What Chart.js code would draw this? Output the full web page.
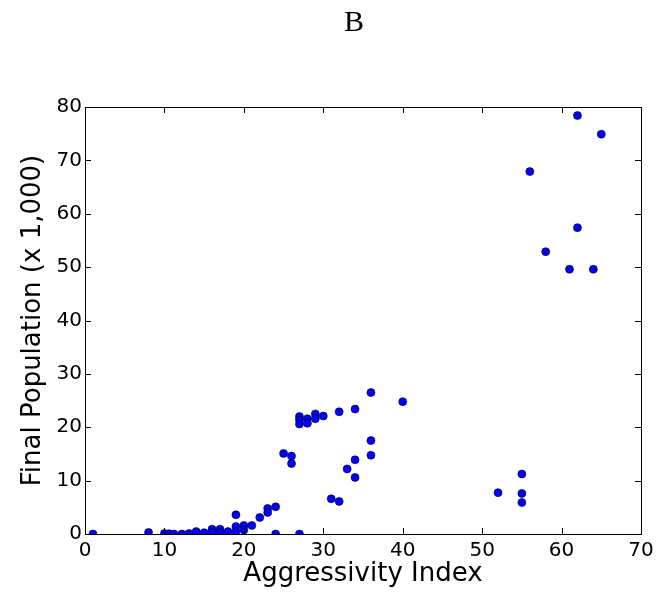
<!DOCTYPE html>
<html>
<head>
<meta charset="utf-8">
<script src="https://cdn.jsdelivr.net/npm/chart.js@4/dist/chart.umd.min.js"></script>
<style>
  html, body { margin: 0; padding: 0; background: #fff; }
  #wrap { width: 663px; height: 598px; }
</style>
</head>
<body>
<div id="wrap"><canvas id="c" width="663" height="598"></canvas></div>
<script>
// Aggressivity index (x) and final population in thousands (y)
const aggressivity = [
  1, 8, 10, 10.6, 11.2, 12.2, 13.1, 14, 15, 16, 16, 17, 17, 18, 19, 19, 19, 20, 20, 21, 22, 23, 23, 24, 24,
  25, 26, 26, 27, 27, 27, 27, 28, 28, 29, 29, 30, 31, 32, 32, 33, 34, 34, 34, 36, 36, 36, 40,
  52, 55, 55, 55, 56, 58, 61, 62, 62, 64, 65
];
const finalPopulation = [
  0, 0.3, 0.1, 0.05, 0, 0, 0.1, 0.45, 0.25, 0.9, 0.3, 0.9, 0.25, 0.45, 3.6, 1.4, 0.45, 1.6, 0.75, 1.6, 3.1, 4.8, 4.05, 5.1, 0,
  15.1, 14.6, 13.2, 0, 22.0, 21.4, 20.6, 21.6, 20.75, 22.5, 21.6, 22.1, 6.6, 22.9, 6.1, 12.2, 23.4, 13.9, 10.6, 26.5, 17.5, 14.75, 24.8,
  7.75, 11.25, 7.6, 5.9, 67.9, 52.9, 49.6, 78.4, 57.4, 49.6, 74.9
];
const xTicks = [0, 10, 20, 30, 40, 50, 60, 70];
const yTicks = [0, 10, 20, 30, 40, 50, 60, 70, 80];
const panelTitle = 'B';
const xTitle = 'Aggressivity Index';
const yTitle = 'Final Population (x 1,000)';

const points = aggressivity.map((x, i) => ({ x: x, y: finalPopulation[i] }));

const framePlugin = {
  id: 'frame',
  afterDatasetsDraw(chart) {
    const { ctx, chartArea: a, scales } = chart;
    ctx.save();
    ctx.strokeStyle = '#000';
    ctx.lineWidth = 1;
    ctx.strokeRect(Math.round(a.left) + 0.5, Math.round(a.top) + 0.5,
                   Math.round(a.right - a.left), Math.round(a.bottom - a.top));
    const tl = 6;
    ctx.beginPath();
    xTicks.forEach(v => {
      const px = Math.round(scales.x.getPixelForValue(v)) + 0.5;
      ctx.moveTo(px, a.bottom); ctx.lineTo(px, a.bottom - tl);
      ctx.moveTo(px, a.top); ctx.lineTo(px, a.top + tl);
    });
    yTicks.forEach(v => {
      const py = Math.round(scales.y.getPixelForValue(v)) + 0.5;
      ctx.moveTo(a.left, py); ctx.lineTo(a.left + tl, py);
      ctx.moveTo(a.right, py); ctx.lineTo(a.right - tl, py);
    });
    ctx.stroke();
    ctx.fillStyle = '#000';
    ctx.font = '30px "Liberation Serif"';
    ctx.textAlign = 'center';
    ctx.textBaseline = 'alphabetic';
    ctx.fillText(panelTitle, 354, 31);
    ctx.restore();
  }
};

new Chart(document.getElementById('c'), {
  type: 'scatter',
  data: {
    datasets: [{
      data: points,
      pointRadius: 4,
      pointHoverRadius: 4,
      backgroundColor: '#0000ff',
      borderColor: '#000000',
      borderWidth: 0.6,
      clip: 0
    }]
  },
  options: {
    responsive: false,
    animation: false,
    devicePixelRatio: 1,
    layout: { padding: { top: 107, left: 0, right: 22, bottom: 0 } },
    plugins: { legend: { display: false }, tooltip: { enabled: false }, title: { display: false } },
    scales: {
      x: {
        type: 'linear', min: 0, max: 70,
        afterFit(s) { s.height = 64; },
        afterBuildTicks(s) { s.ticks = xTicks.map(v => ({ value: v })); },
        grid: { display: false, drawTicks: false },
        border: { display: false },
        ticks: { color: '#000', padding: 7, maxRotation: 0, font: { family: 'DejaVu Sans', size: 20, lineHeight: 1 } },
        title: { display: true, text: xTitle, color: '#000', padding: { top: 8, bottom: 8 }, font: { family: 'DejaVu Sans', size: 26, lineHeight: 1.2 } }
      },
      y: {
        type: 'linear', min: 0, max: 80,
        afterFit(s) { s.width = 85; },
        afterBuildTicks(s) { s.ticks = yTicks.map(v => ({ value: v })); },
        grid: { display: false, drawTicks: false },
        border: { display: false },
        ticks: { color: '#000', padding: 3, font: { family: 'DejaVu Sans', size: 20, lineHeight: 1 } },
        title: { display: true, text: yTitle, color: '#000', padding: { top: 18, bottom: 0 }, font: { family: 'DejaVu Sans', size: 26, lineHeight: 1.2 } }
      }
    }
  },
  plugins: [framePlugin]
});
</script>
</body>
</html>
